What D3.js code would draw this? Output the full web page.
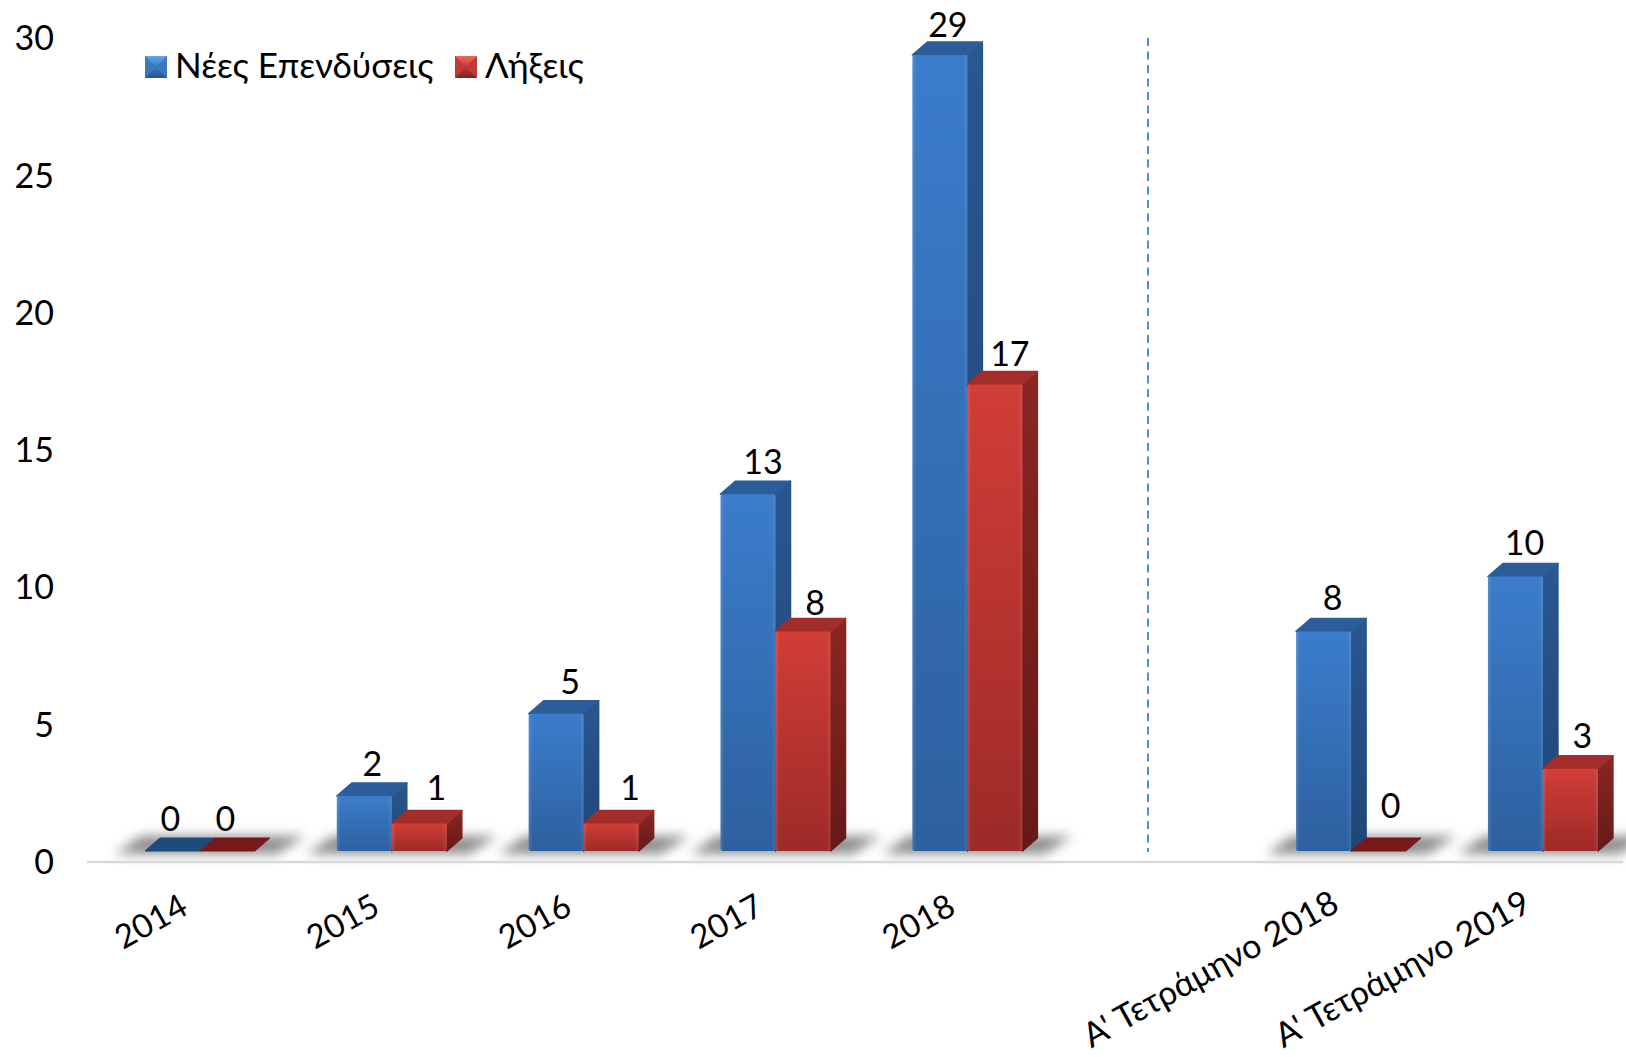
<!DOCTYPE html>
<meta charset="utf-8">
<style>
    body { margin: 0; background: #fff; }
    text { font-family: Lato, "Noto Sans", sans-serif; fill: #000; }
</style>
<script src="https://d3js.org/d3.v7.js"></script>

<svg id="my_dataviz" width="1626" height="1057"></svg>

<script>
    // data
    var categories = ["2014", "2015", "2016", "2017", "2018", "", "Α' Τετράμηνο 2018", "Α' Τετράμηνο 2019"]
    var newInvestments = [0, 2, 5, 13, 29, null, 8, 10]
    var expirations = [0, 1, 1, 8, 17, null, 0, 3]
    var seriesNames = ["Νέες Επενδύσεις", "Λήξεις"]
    var yTicks = [0, 5, 10, 15, 20, 25, 30]

    var svg = d3.select("svg")
    var width = +svg.attr("width"),
        height = +svg.attr("height");

    // 3d look of the bars
    var depthX = 15, depthY = 13
    var fontSize = 34

    var x = d3.scaleBand()
        .domain(categories)
        .range([104, 104 + 8 * 191.86])
        .paddingInner(0.4267)
        .paddingOuter(0.2134)
    var barW = x.bandwidth() / 2

    var y = d3.scaleLinear().domain([0, 29]).range([851, 55])

    // hand placement of the value labels, the original has them nudged around
    var labelNudge = [
        [[-2, 1], [-3, 1], [3, 1], [4, 1], [-3, 3], null, [-2, 0], [-2, -1]],
        [[-2, 1], [6, -3], [8, -3], [1, 5], [4, 3], null, [12, -12], [1, 0]]
    ]

    // gradients and blur
    var defs = svg.append("defs")
    function vGrad(id, top, bottom) {
        var g = defs.append("linearGradient").attr("id", id)
            .attr("x1", 0).attr("y1", 0).attr("x2", 0).attr("y2", 1)
        g.append("stop").attr("offset", "0%").attr("stop-color", top)
        g.append("stop").attr("offset", "100%").attr("stop-color", bottom)
    }
    vGrad("blueFront", "#3b7dcc", "#2d609f")
    vGrad("redFront", "#d23d37", "#9c2a27")
    vGrad("blueSide", "#29578f", "#1f4677")
    vGrad("redSide", "#8a2623", "#651a18")
    vGrad("blueKeyTop", "#62a6ec", "#3a78c0")
    vGrad("blueKeyBottom", "#3a78c0", "#27558c")
    vGrad("redKeyTop", "#f2665f", "#c23a36")
    vGrad("redKeyBottom", "#c23a36", "#742321")
    var sheen = defs.append("linearGradient").attr("id", "sheen")
    sheen.append("stop").attr("offset", "0%").attr("stop-color", "#fff").attr("stop-opacity", 0.14)
    sheen.append("stop").attr("offset", "7%").attr("stop-color", "#fff").attr("stop-opacity", 0)
    sheen.append("stop").attr("offset", "93%").attr("stop-color", "#fff").attr("stop-opacity", 0)
    sheen.append("stop").attr("offset", "100%").attr("stop-color", "#fff").attr("stop-opacity", 0.1)
    defs.append("filter").attr("id", "soft")
        .attr("x", "-20%").attr("y", "-80%").attr("width", "140%").attr("height", "260%")
        .append("feGaussianBlur").attr("stdDeviation", 6)

    var palette = [
        { front: "url(#blueFront)", side: "url(#blueSide)", top: "#2c5d9b", flat: "#1f4a7c",
          keyTop: "url(#blueKeyTop)", keyBottom: "url(#blueKeyBottom)", mid: "#3a78c0" },
        { front: "url(#redFront)", side: "url(#redSide)", top: "#a32d2a", flat: "#761a1a",
          keyTop: "url(#redKeyTop)", keyBottom: "url(#redKeyBottom)", mid: "#c23a36" }
    ]

    // floor shadows
    svg.append("g").selectAll("polygon")
        .data(categories.filter(d => d !== ""))
        .enter().append("polygon")
        .attr("fill", "#8c8c8c")
        .attr("filter", "url(#soft)")
        .attr("points", d => {
            var l = x(d)
            return [[l - 30, 854], [l + 132, 854], [l + 160, 836], [l - 4, 836]].join(" ")
        })

    // base line
    svg.append("line")
        .attr("x1", 87).attr("x2", 1623)
        .attr("y1", 862).attr("y2", 862)
        .attr("stroke", "#d9d9d9")
        .attr("stroke-width", 2.5)

    // separator between years and four-month periods
    svg.append("line")
        .attr("x1", 1148).attr("x2", 1148)
        .attr("y1", 38).attr("y2", 852)
        .attr("stroke", "#4a8fd8")
        .attr("stroke-width", 2)
        .attr("stroke-dasharray", "8,5.5")

    // y axis, the wall sits a bit lower than the front of the bars
    var yAxis = svg.append("g")
        .attr("transform", "translate(62,11.5)")
        .call(d3.axisLeft(y).tickValues(yTicks).tickSize(0).tickPadding(8))
    yAxis.attr("font-family", null)
    yAxis.select(".domain").remove()
    yAxis.selectAll("text").style("font-size", fontSize + "px")

    // x axis labels
    var xAxis = svg.append("g")
        .attr("transform", "translate(0,862)")
        .call(d3.axisBottom(x).tickSize(0))
    xAxis.attr("font-family", null)
    xAxis.select(".domain").remove()
    xAxis.selectAll("text")
        .style("font-size", d => (d.length > 4 ? 34 : 33) + "px")
        .attr("text-anchor", "end")
        .attr("dy", null)
        .attr("y", 0)
        .attr("transform", d => "translate(-10," + (d.length > 4 ? 48 : 51) + ") rotate(-29)")

    // bars
    function drawBar(g, left, value, c) {
        var top = y(value), base = y(0), right = left + barW
        var backTop = top - depthY
        if (value === 0) {
            g.append("polygon").attr("fill", c.flat)
                .attr("stroke", c.flat).attr("stroke-linejoin", "round")
                .attr("points", [[left, base], [right, base], [right + depthX, backTop], [left + depthX, backTop]].join(" "))
            return
        }
        g.append("polygon").attr("fill", c.side)
            .attr("stroke", c.side).attr("stroke-width", 1.5).attr("stroke-linejoin", "round")
            .attr("points", [[right, base], [right + depthX, base - depthY], [right + depthX, backTop], [right, top]].join(" "))
        g.append("polygon").attr("fill", c.top)
            .attr("stroke", c.top).attr("stroke-width", 1.5).attr("stroke-linejoin", "round")
            .attr("points", [[left, top], [right, top], [right + depthX, backTop], [left + depthX, backTop]].join(" "))
        g.append("rect").attr("fill", c.front)
            .attr("x", left).attr("y", top)
            .attr("width", barW).attr("height", base - top)
            .attr("rx", 2)
        g.append("rect").attr("fill", "url(#sheen)")
            .attr("x", left).attr("y", top)
            .attr("width", barW).attr("height", base - top)
            .attr("rx", 2)
    }

    var bars = svg.append("g")
    categories.forEach((cat, i) => {
        if (cat === "") return
        var g = bars.append("g")
        drawBar(g, x(cat), newInvestments[i], palette[0])
        drawBar(g, x(cat) + barW, expirations[i], palette[1])
    })

    // value labels, centred above the top face
    var labels = svg.append("g").attr("text-anchor", "middle").style("font-size", fontSize + "px")
    categories.forEach((cat, i) => {
        if (cat === "") return
        ;[newInvestments[i], expirations[i]].forEach((v, s) => {
            var nudge = labelNudge[s][i]
            labels.append("text")
                .attr("x", x(cat) + barW * s + barW / 2 + (v === 0 ? 0 : 11) + nudge[0])
                .attr("y", y(v) - depthY - 8 + nudge[1])
                .text(v)
        })
    })

    // legend
    var legendX = d3.scaleOrdinal().domain(seriesNames).range([145, 455])
    var swatch = 22
    var legend = svg.append("g").selectAll("g")
        .data(seriesNames)
        .enter().append("g")
        .attr("transform", d => "translate(" + legendX(d) + ",56)")
    legend.append("rect").attr("width", swatch).attr("height", swatch)
        .attr("fill", (d, i) => palette[i].mid)
    legend.append("polygon")
        .attr("fill", (d, i) => palette[i].keyTop)
        .attr("points", [[0, 0], [swatch, 0], [swatch / 2, swatch / 2]].join(" "))
    legend.append("polygon")
        .attr("fill", (d, i) => palette[i].keyBottom)
        .attr("points", [[0, swatch], [swatch, swatch], [swatch / 2, swatch / 2]].join(" "))
    legend.append("text")
        .attr("x", swatch + 8).attr("y", 22)
        .style("font-size", "35px")
        .text(d => d)
</script>
